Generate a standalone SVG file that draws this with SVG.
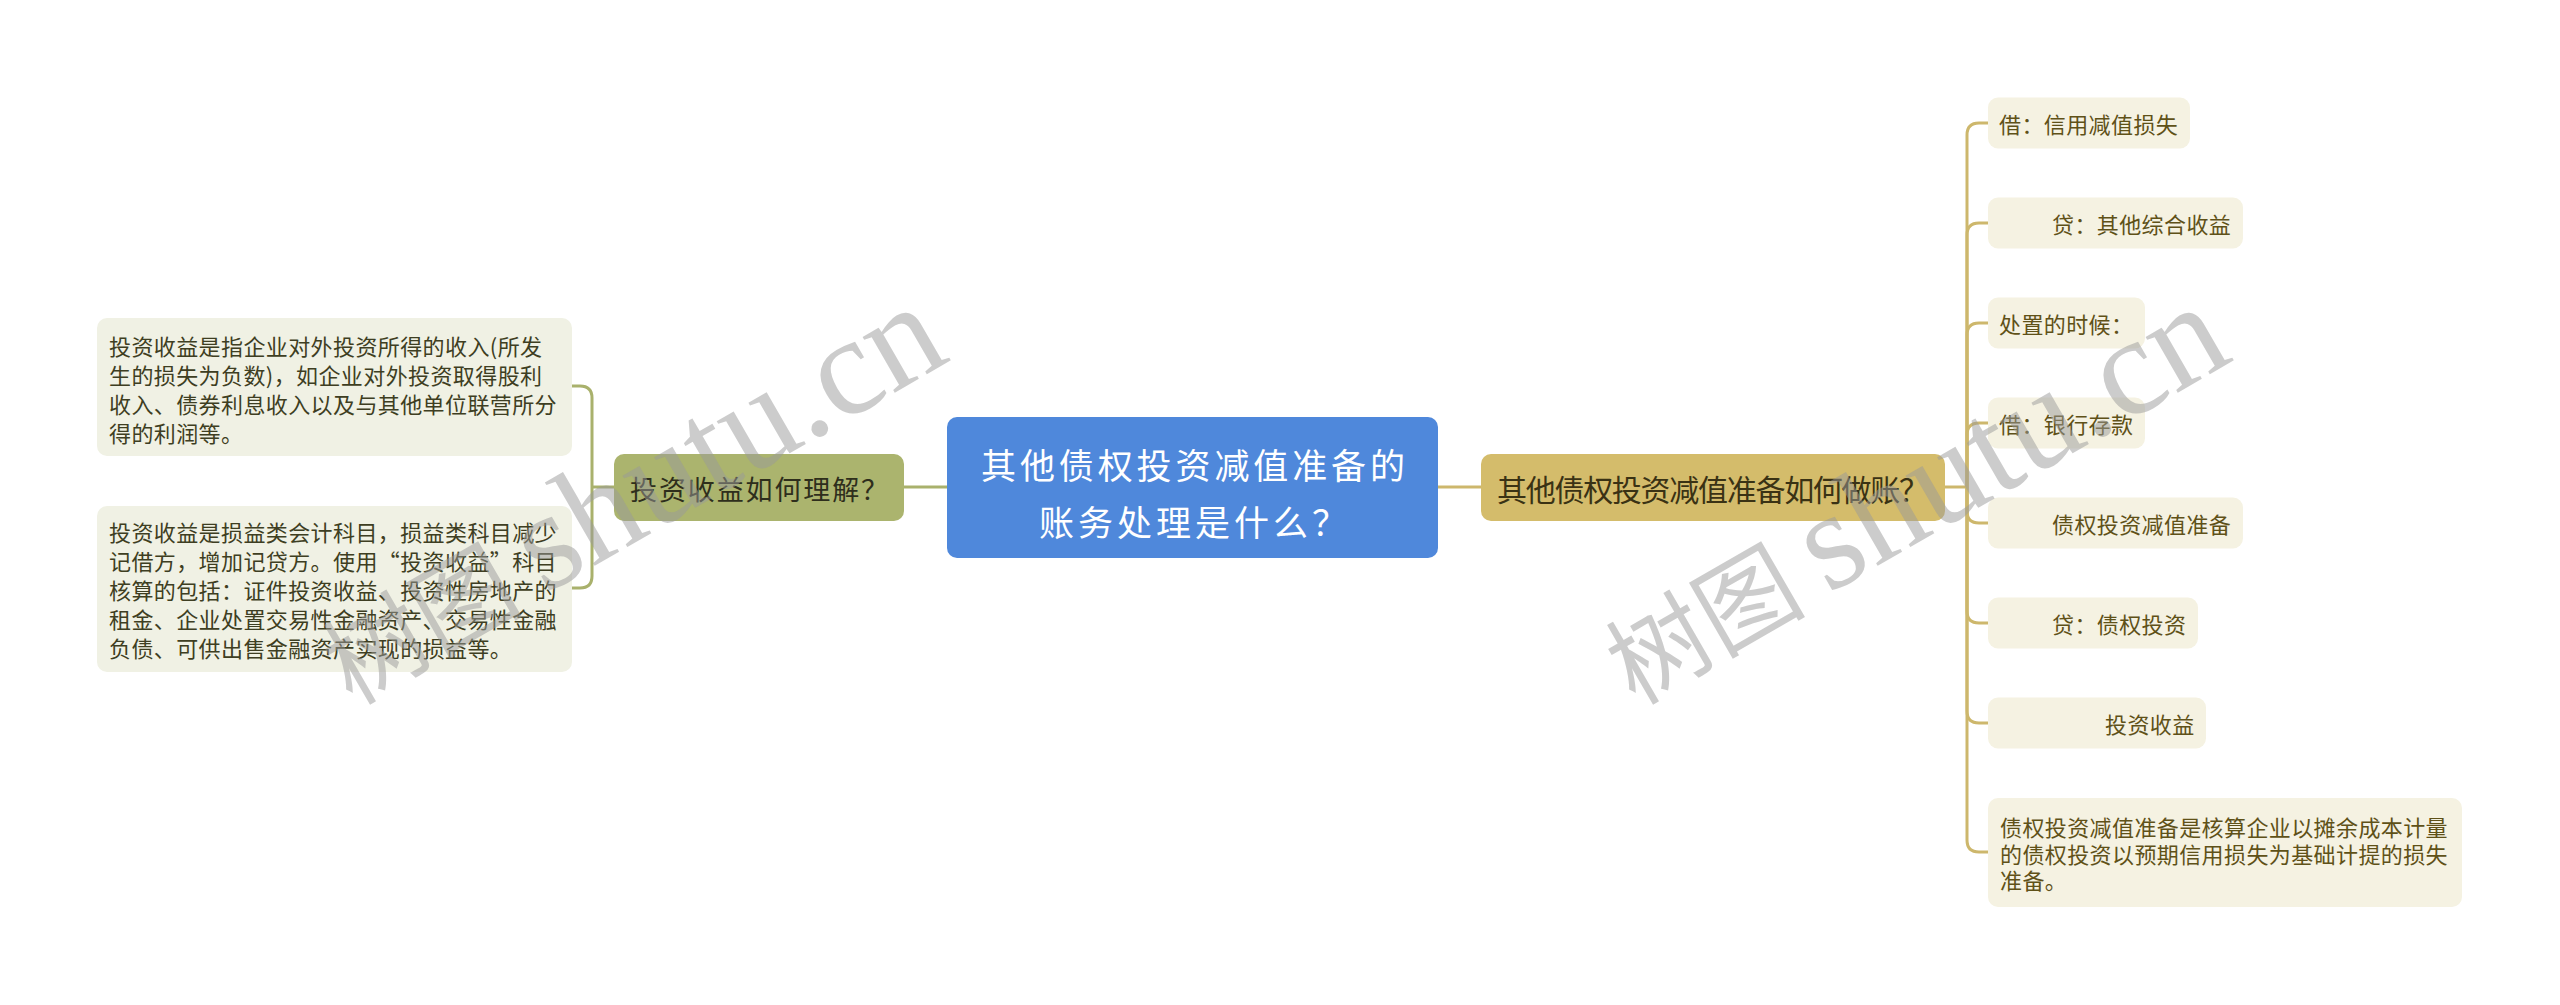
<svg xmlns="http://www.w3.org/2000/svg" width="2560" height="1005" viewBox="0 0 2560 1005">
<style>
text { font-family: "Noto Sans CJK SC", "Noto Sans", sans-serif; dominant-baseline: central; }
.cen { font-size: 35px; fill: #ffffff; text-anchor: middle; }
.bl { font-size: 27px; fill: #2e2e1c; text-anchor: middle; }
.br { font-size: 30px; fill: #3a3214; text-anchor: middle; }
.ll { font-size: 22px; letter-spacing: 0.4px; fill: #3e3e22; }
.rl { font-size: 22px; letter-spacing: 0.4px; fill: #5f5118; }
.lbox { fill: #f0f1e4; }
.rbox { fill: #f5f2e2; }
.lc { fill: none; stroke: #a9b16c; stroke-width: 3; }
.rc { fill: none; stroke: #cdb76c; stroke-width: 3; }
.wm { font-family: "Liberation Serif", "Noto Sans CJK SC", serif; fill: #9a9a9a; fill-opacity: 0.5; dominant-baseline: auto; }
</style>
<rect width="2560" height="1005" fill="#ffffff"/>
<g id="connectors">
<path class="lc" d="M947 487 H904"/>
<path class="lc" d="M614 487 H592"/>
<path class="lc" d="M592 487 V398 Q592 386 580 386 H572"/>
<path class="lc" d="M592 487 V576 Q592 588 580 588 H572"/>
<path class="rc" d="M1438 487 H1481"/>
<path class="rc" d="M1945 487 H1967"/>
<path class="rc" d="M1967 487 V135 Q1967 123 1979 123 H1988"/>
<path class="rc" d="M1967 487 V235 Q1967 223 1979 223 H1988"/>
<path class="rc" d="M1967 487 V335 Q1967 323 1979 323 H1988"/>
<path class="rc" d="M1967 487 V435 Q1967 423 1979 423 H1988"/>
<path class="rc" d="M1967 487 V511 Q1967 523 1979 523 H1988"/>
<path class="rc" d="M1967 487 V611 Q1967 623 1979 623 H1988"/>
<path class="rc" d="M1967 487 V711 Q1967 723 1979 723 H1988"/>
<path class="rc" d="M1967 487 V840 Q1967 852 1979 852 H1988"/>
</g>
<g id="root">
<rect x="947" y="417" width="491" height="141" rx="10" fill="#4f88db"/>
<text class="cen" x="1193" y="463" textLength="424" lengthAdjust="spacing">其他债权投资减值准备的</text>
<text class="cen" x="1193" y="520" textLength="308" lengthAdjust="spacing">账务处理是什么？</text>
</g>
<g id="branch-left">
<rect x="614" y="454" width="290" height="67" rx="10" fill="#abb46e"/>
<text class="bl" x="759" y="488" textLength="258" lengthAdjust="spacing">投资收益如何理解？</text>
</g>
<g id="branch-right">
<rect x="1481" y="454" width="464" height="67" rx="10" fill="#d4bc6b"/>
<text class="br" x="1713" y="488" textLength="432" lengthAdjust="spacing">其他债权投资减值准备如何做账？</text>
</g>
<g id="leaf-l1">
<rect class="lbox" x="97" y="318" width="475" height="138" rx="10"/>
<text class="ll" x="109" y="345">投资收益是指企业对外投资所得的收入(所发</text>
<text class="ll" x="109" y="374">生的损失为负数)，如企业对外投资取得股利</text>
<text class="ll" x="109" y="403">收入、债券利息收入以及与其他单位联营所分</text>
<text class="ll" x="109" y="432">得的利润等。</text>
</g>
<g id="leaf-l2">
<rect class="lbox" x="97" y="506" width="475" height="166" rx="10"/>
<text class="ll" x="109" y="531">投资收益是损益类会计科目，损益类科目减少</text>
<text class="ll" x="109" y="560">记借方，增加记贷方。使用“投资收益”科目</text>
<text class="ll" x="109" y="589">核算的包括：证件投资收益、投资性房地产的</text>
<text class="ll" x="109" y="618">租金、企业处置交易性金融资产、交易性金融</text>
<text class="ll" x="109" y="647">负债、可供出售金融资产实现的损益等。</text>
</g>
<g id="leaf-r1">
<rect class="rbox" x="1988" y="97.5" width="202" height="51" rx="10"/>
<text class="rl" x="1999" y="123">借：信用减值损失</text>
</g>
<g id="leaf-r2">
<rect class="rbox" x="1988" y="197.5" width="255" height="51" rx="10"/>
<text class="rl" x="2052" y="223">贷：其他综合收益</text>
</g>
<g id="leaf-r3">
<rect class="rbox" x="1988" y="297.5" width="157" height="51" rx="10"/>
<text class="rl" x="1999" y="323">处置的时候：</text>
</g>
<g id="leaf-r4">
<rect class="rbox" x="1988" y="397.5" width="157" height="51" rx="10"/>
<text class="rl" x="1999" y="423">借：银行存款</text>
</g>
<g id="leaf-r5">
<rect class="rbox" x="1988" y="497.5" width="255" height="51" rx="10"/>
<text class="rl" x="2052" y="523">债权投资减值准备</text>
</g>
<g id="leaf-r6">
<rect class="rbox" x="1988" y="597.5" width="210" height="51" rx="10"/>
<text class="rl" x="2052" y="623">贷：债权投资</text>
</g>
<g id="leaf-r7">
<rect class="rbox" x="1988" y="697.5" width="218" height="51" rx="10"/>
<text class="rl" x="2105" y="723">投资收益</text>
</g>
<g id="leaf-r8">
<rect class="rbox" x="1988" y="798" width="474" height="109" rx="10"/>
<text class="rl" x="2000" y="826">债权投资减值准备是核算企业以摊余成本计量</text>
<text class="rl" x="2000" y="852.5">的债权投资以预期信用损失为基础计提的损失</text>
<text class="rl" x="2000" y="879">准备。</text>
</g>
<g id="watermarks">
<text class="wm" transform="translate(352,706) rotate(-30)"><tspan font-size="100">树图</tspan><tspan font-size="140" dx="-12"> shutu.cn</tspan></text>
<text class="wm" transform="translate(1635,706) rotate(-30)"><tspan font-size="100">树图</tspan><tspan font-size="140" dx="-12"> shutu.cn</tspan></text>
</g>
</svg>
